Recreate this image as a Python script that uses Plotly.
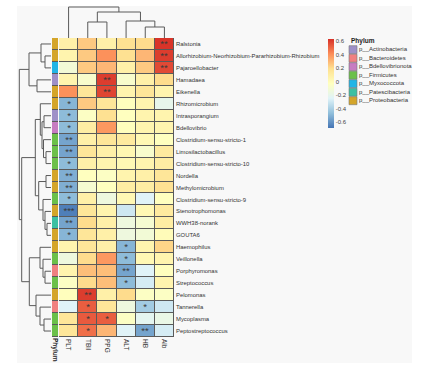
import plotly.graph_objects as go

W, H = 434, 367

# ---------------- data ----------------
genera = ["Ralstonia", "Allorhizobium-Neorhizobium-Pararhizobium-Rhizobium", "Pajaroellobacter",
          "Hamadaea", "Eikenella", "Rhizomicrobium", "Intrasporangium", "Bdellovibrio",
          "Clostridium-sensu-stricto-1", "Limosilactobacillus", "Clostridium-sensu-stricto-10",
          "Nordella", "Methylomicrobium", "Clostridium-sensu-stricto-9", "Stenotrophomonas",
          "WWH38-norank", "GOUTA6", "Haemophilus", "Veillonella", "Porphyromonas",
          "Streptococcus", "Pelomonas", "Tannerella", "Mycoplasma", "Peptostreptococcus"]

variables = ["PLT", "TBil", "PPG", "ALT", "HB", "Alb"]

PLT  = [0.08, 0.05, -0.12, 0.05, 0.40, -0.50, -0.48, -0.48, -0.55, -0.55, -0.48, -0.52, -0.52,
        -0.48, -0.66, -0.55, -0.50, 0.05, -0.15, 0.05, -0.05, -0.02, -0.25, 0.15, 0.15]
TBil = [0.25, 0.25, 0.25, -0.08, 0.15, 0.25, -0.05, 0.10, 0.08, 0.15, 0.08, -0.03, -0.10,
        0.08, 0.15, 0.20, 0.15, 0.15, 0.20, 0.28, 0.20, 0.60, 0.52, 0.53, 0.48]
PPG  = [0.08, 0.40, 0.30, 0.60, 0.58, 0.15, 0.18, 0.38, 0.15, 0.08, 0.05, -0.05, -0.03,
        -0.15, 0.05, 0.08, 0.08, 0.08, 0.38, 0.28, 0.28, 0.08, 0.15, 0.52, 0.30]
ALT  = [0.18, 0.18, 0.08, -0.08, 0.05, -0.02, -0.03, -0.02, 0.12, 0.03, 0.02, 0.05, 0.10,
        0.02, -0.30, -0.15, -0.15, -0.50, -0.48, -0.55, -0.48, 0.20, -0.15, -0.05, -0.25]
HB   = [0.20, 0.30, 0.25, 0.08, 0.15, 0.05, 0.05, 0.05, 0.02, -0.08, 0.05, 0.08, 0.10,
        -0.25, 0.02, -0.10, -0.12, 0.05, 0.02, -0.25, -0.28, -0.05, -0.42, -0.22, -0.55]
Alb  = [0.62, 0.60, 0.57, 0.20, 0.05, -0.20, 0.05, 0.05, -0.03, 0.12, 0.10, 0.15, 0.18,
        -0.03, 0.12, 0.10, 0.00, 0.22, 0.05, -0.02, 0.05, -0.05, -0.30, -0.18, -0.28]

sig_PLT  = ["", "", "", "", "", "*", "*", "*", "**", "**", "*", "**", "**", "*", "***", "**", "*",
            "", "", "", "", "", "", "", ""]
sig_TBil = [""] * 21 + ["**", "*", "*", "*"]
sig_PPG  = ["", "", "", "**", "**"] + [""] * 18 + ["*", ""]
sig_ALT  = [""] * 17 + ["*", "*", "**", "*", "", "", "", ""]
sig_HB   = [""] * 22 + ["*", "", "**"]
sig_Alb  = ["**", "**", "**"] + [""] * 22

phylum_names = ["p__Actinobacteria", "p__Bacteroidetes", "p__Bdellovibrionota", "p__Firmicutes",
                "p__Myxococcota", "p__Patescibacteria", "p__Proteobacteria"]
phylum_colors = ["#9E90C8", "#F08080", "#C77CC2", "#6CC04A", "#22B5E6", "#3CC0A2", "#D4A52A"]
row_phylum = ["p__Proteobacteria", "p__Proteobacteria", "p__Myxococcota", "p__Actinobacteria",
              "p__Proteobacteria", "p__Proteobacteria", "p__Actinobacteria", "p__Bdellovibrionota",
              "p__Firmicutes", "p__Firmicutes", "p__Firmicutes", "p__Proteobacteria",
              "p__Proteobacteria", "p__Firmicutes", "p__Proteobacteria", "p__Patescibacteria",
              "p__Proteobacteria", "p__Proteobacteria", "p__Firmicutes", "p__Bacteroidetes",
              "p__Firmicutes", "p__Proteobacteria", "p__Bacteroidetes", "p__Firmicutes",
              "p__Firmicutes"]

# hierarchical clustering merges: (child_a, child_b, height)
row_merges = [(1, 2, 6), (0, 25, 10), (3, 4, 14), (26, 27, 22),
              (6, 7, 7), (9, 10, 5), (8, 30, 7.5), (29, 31, 9), (5, 32, 10.7),
              (11, 12, 5), (15, 16, 4), (14, 35, 6), (13, 36, 8), (34, 37, 12.3), (33, 38, 15.7),
              (19, 20, 6), (18, 40, 8), (17, 41, 11), (23, 24, 7), (22, 43, 11), (21, 44, 15),
              (42, 45, 21.7), (39, 46, 29.3), (28, 47, 31.7)]
col_merges = [(4, 5, 11), (1, 2, 16), (3, 6, 17), (7, 8, 26), (0, 9, 31)]

cb_ticks = [0.6, 0.4, 0.2, 0, -0.2, -0.4, -0.6]

# ---------------- helpers ----------------
def xd(a, b):
    return [a / W, b / W]

def yd(top, bottom):
    return [1 - bottom / H, 1 - top / H]

def dendro(n, merges):
    pos = {i: float(i) for i in range(n)}
    hgt = {i: 0.0 for i in range(n)}
    P, Hh = [], []
    for k, (a, b, h) in enumerate(merges):
        node = n + k
        Hh += [hgt[a], h, h, hgt[b], None]
        P += [pos[a], pos[a], pos[b], pos[b], None]
        pos[node] = (pos[a] + pos[b]) / 2
        hgt[node] = h
    return P, Hh

n_rows = len(genera)
columns = [PLT, TBil, PPG, ALT, HB, Alb]
sigs = [sig_PLT, sig_TBil, sig_PPG, sig_ALT, sig_HB, sig_Alb]
z = [[c[i] for c in columns] for i in range(n_rows)]
txt = [[s[i] for s in sigs] for i in range(n_rows)]

rdylbu = ["#4575B4", "#91BFDB", "#E0F3F8", "#FFFFBF", "#FEE090", "#FC8D59", "#D73027"]
cscale = [[i / (len(rdylbu) - 1), c] for i, c in enumerate(rdylbu)]
zmin, zmax = -0.69, 0.63

FONT = "Liberation Sans, Arial, sans-serif"
LINE = "#5a5a5a"

fig = go.Figure()

fig.add_trace(go.Heatmap(
    x=list(range(len(variables))), y=list(range(n_rows)), z=z,
    zmin=zmin, zmax=zmax, colorscale=cscale, xgap=1, ygap=1,
    text=txt, texttemplate="%{text}", textfont=dict(size=9.5, color="#3a3a3a", family=FONT),
    hoverinfo="skip",
    colorbar=dict(x=328 / W, xanchor="left", y=1 - 39 / H, yanchor="top",
                  len=(128 - 39) / H, lenmode="fraction", thickness=6, thicknessmode="pixels",
                  outlinewidth=0, tickvals=cb_ticks, ticktext=[f"{v:g}" for v in cb_ticks],
                  ticks="", tickfont=dict(size=6, color="#444", family=FONT), xpad=0, ypad=0),
))

# phylum annotation column
idx = [phylum_names.index(p) for p in row_phylum]
npc = len(phylum_names)
disc = []
for i, c in enumerate(phylum_colors):
    disc += [[i / npc, c], [(i + 1) / npc, c]]
fig.add_trace(go.Heatmap(
    x=[0], y=list(range(n_rows)), z=[[v] for v in idx], zmin=-0.5, zmax=npc - 0.5,
    colorscale=disc, showscale=False, ygap=1, xaxis="x2", yaxis="y", hoverinfo="skip"))

# row dendrogram
rp, rh = dendro(n_rows, row_merges)
fig.add_trace(go.Scatter(x=rh, y=rp, mode="lines", line=dict(color=LINE, width=1),
                         xaxis="x3", yaxis="y", hoverinfo="skip", showlegend=False))
# column dendrogram
cp, ch = dendro(len(variables), col_merges)
fig.add_trace(go.Scatter(x=cp, y=ch, mode="lines", line=dict(color=LINE, width=1),
                         xaxis="x", yaxis="y3", hoverinfo="skip", showlegend=False))

# legend (phylum)
leg_x, leg_y0, leg_step = 353, 49.7, 8.5
fig.add_trace(go.Scatter(
    x=[leg_x] * npc, y=[leg_y0 + i * leg_step for i in range(npc)],
    mode="markers+text", text=phylum_names, textposition="middle right",
    textfont=dict(size=6, color="#333", family=FONT),
    marker=dict(symbol="square", size=8, color=phylum_colors, line=dict(color="#777", width=0.6)),
    xaxis="x4", yaxis="y4", hoverinfo="skip", showlegend=False))

hidden = dict(visible=False, showgrid=False, zeroline=False, fixedrange=True)

fig.update_layout(
    width=W, height=H, margin=dict(l=0, r=0, t=0, b=0),
    paper_bgcolor="white", plot_bgcolor="rgba(0,0,0,0)",
    font=dict(family=FONT, color="#333"),
    showlegend=False,
    xaxis=dict(domain=xd(59, 174), range=[-0.5, len(variables) - 0.5], anchor="y",
               tickvals=list(range(len(variables))), ticktext=variables, tickangle=90,
               ticks="", showgrid=False, zeroline=False, showline=False,
               tickfont=dict(size=6.5, color="#333", family=FONT), ticklabelstandoff=1),
    yaxis=dict(domain=yd(38, 337), range=[n_rows - 0.5, -0.5], anchor="x", side="right",
               tickvals=list(range(n_rows)), ticktext=genera, ticks="",
               showgrid=False, zeroline=False, showline=False,
               tickfont=dict(size=5.9, color="#333", family=FONT), ticklabelstandoff=1),
    xaxis2=dict(domain=xd(52, 58), range=[-0.5, 0.5], anchor="y", showticklabels=False,
                ticks="", showgrid=False, zeroline=False),
    xaxis3=dict(domain=xd(0, 51), range=[51, 0], anchor="y", **hidden),
    yaxis3=dict(domain=yd(0, 38), range=[0, 38], anchor="x", **hidden),
    xaxis4=dict(domain=[0, 1], range=[0, W], anchor="y4", **hidden),
    yaxis4=dict(domain=[0, 1], range=[H, 0], anchor="x4", **hidden),
    annotations=[
        dict(x=349, y=41, xref="x4", yref="y4", text="<b>Phylum</b>", showarrow=False,
             xanchor="left", yanchor="middle", font=dict(size=6.5, color="#222", family=FONT)),
        dict(x=55, y=350, xref="x4", yref="y4", text="<b>Phylum</b>", showarrow=False,
             textangle=90, xanchor="center", yanchor="middle",
             font=dict(size=6.5, color="#222", family=FONT)),
    ],
    shapes=[
        dict(type="rect", xref="paper", yref="paper", x0=17 / W, x1=412 / W,
             y0=1 - 363 / H, y1=1 - 6 / H, fillcolor="#F8F8F8", line=dict(width=0), layer="below"),
        dict(type="rect", xref="x", yref="y", x0=-0.5, x1=len(variables) - 0.5,
             y0=-0.5, y1=n_rows - 0.5, fillcolor=LINE, line=dict(color=LINE, width=1), layer="below"),
        dict(type="rect", xref="x2", yref="y", x0=-0.5, x1=0.5,
             y0=-0.5, y1=n_rows - 0.5, fillcolor=LINE, line=dict(color=LINE, width=1), layer="below"),
    ],
)

fig.write_html("out.html", config={"displayModeBar": False},
               post_script="document.body.style.margin='0';document.body.style.overflow='hidden';")
